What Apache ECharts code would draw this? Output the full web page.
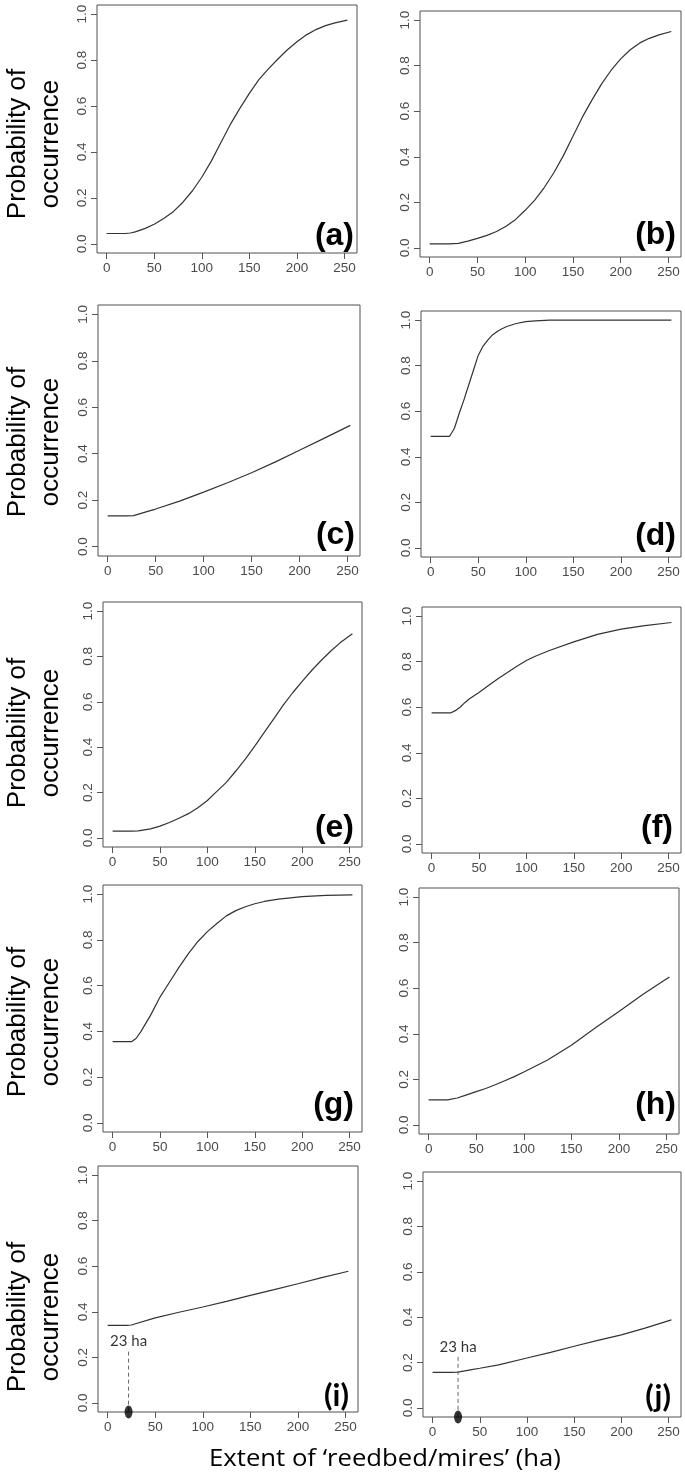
<!DOCTYPE html>
<html>
<head>
<meta charset="utf-8">
<script src="https://cdn.jsdelivr.net/npm/echarts@6/dist/echarts.min.js"></script>
<style>
html,body{margin:0;padding:0;background:#fff;}
#chart{width:685px;height:1478px;}
</style>
</head>
<body>
<div id="chart"></div>
<script>
// ---------- data ----------
const xTicks = [0, 50, 100, 150, 200, 250];
const yTicks = [0, 0.2, 0.4, 0.6, 0.8, 1.0];
const panelNames = ['(a)', '(b)', '(c)', '(d)', '(e)', '(f)', '(g)', '(h)', '(i)', '(j)'];
const yTitle = 'Probability of\noccurrence';
const xTitle = 'Extent of \u2018reedbed/mires\u2019 (ha)';

const xa = [0,10,20,25,30,40,50,60,70,80,90,100,110,120,130,140,150,160,170,180,190,200,210,220,230,240,253];
const ya = [0.045,0.045,0.045,0.047,0.052,0.066,0.085,0.11,0.14,0.18,0.23,0.29,0.36,0.44,0.52,0.59,0.655,0.715,0.762,0.805,0.845,0.88,0.91,0.933,0.95,0.962,0.974];

const xb = [0,10,20,30,40,50,60,70,80,90,100,110,120,130,140,150,160,170,180,190,200,210,220,230,240,253];
const yb = [0.018,0.018,0.018,0.02,0.03,0.042,0.055,0.072,0.095,0.125,0.165,0.21,0.265,0.33,0.405,0.49,0.575,0.65,0.72,0.78,0.83,0.87,0.9,0.92,0.935,0.95];

const xc = [0,10,20,27,40,50,75,100,125,150,175,200,225,253];
const yc = [0.133,0.133,0.133,0.134,0.15,0.162,0.196,0.235,0.275,0.318,0.365,0.415,0.465,0.522];

const xd = [0,10,20,25,30,35,40,45,50,55,60,65,70,75,80,90,100,110,125,150,175,200,225,253];
const yd = [0.49,0.49,0.49,0.525,0.59,0.65,0.715,0.78,0.845,0.885,0.912,0.935,0.95,0.962,0.972,0.985,0.993,0.997,1,1,1,1,1,1];

const xe = [0,10,20,27,40,50,60,70,80,90,100,110,120,130,140,150,160,170,180,190,200,210,220,230,240,253];
const ye = [0.03,0.03,0.03,0.031,0.04,0.052,0.068,0.087,0.107,0.133,0.165,0.205,0.245,0.295,0.347,0.405,0.465,0.525,0.585,0.64,0.69,0.738,0.782,0.823,0.86,0.9];

const xf = [0,10,20,25,30,35,40,50,60,70,80,90,100,110,125,150,175,200,225,253];
const yf = [0.575,0.575,0.575,0.585,0.6,0.62,0.637,0.665,0.695,0.725,0.752,0.78,0.805,0.825,0.85,0.887,0.92,0.943,0.958,0.972];

const xg = [0,10,20,25,30,40,50,60,70,80,90,100,110,120,130,140,150,160,175,200,225,253];
const yg = [0.355,0.355,0.355,0.37,0.4,0.47,0.55,0.615,0.68,0.74,0.793,0.836,0.872,0.905,0.928,0.945,0.958,0.968,0.978,0.989,0.995,0.997];

const xh = [0,10,20,30,40,50,60,70,80,90,100,110,125,150,175,200,225,253];
const yh = [0.11,0.11,0.11,0.118,0.132,0.146,0.16,0.176,0.194,0.212,0.232,0.253,0.285,0.35,0.425,0.498,0.572,0.649];

const xi = [0,10,20,25,50,75,100,125,150,175,200,225,253];
const yi = [0.34,0.34,0.34,0.342,0.373,0.398,0.421,0.446,0.472,0.497,0.523,0.55,0.578];

const xj = [0,10,20,27,40,50,70,100,125,150,175,200,225,253];
const yj = [0.157,0.157,0.157,0.158,0.168,0.175,0.19,0.22,0.245,0.272,0.298,0.322,0.352,0.388];

// threshold annotation (panels i and j)
const annotLabel = '23 ha';
const annotXi = 22;
const annotXj = 27;
const annotTop = 0.225;
const annotTextY = 0.27;

// ---------- layout ----------
const seriesX = [xa, xb, xc, xd, xe, xf, xg, xh, xi, xj];
const seriesY = [ya, yb, yc, yd, ye, yf, yg, yh, yi, yj];
const gridRects = [
  [97, 5, 260, 248], [420, 11, 261, 246],
  [98, 305, 262, 251], [421, 311, 260, 246],
  [103, 602, 259, 245], [422, 607, 259, 246],
  [103, 885, 259, 247], [419, 888, 260, 246],
  [98, 1166, 260, 246], [423, 1172, 258, 245]
];
const labelPos = [
  [354, 252], [676, 251],
  [355, 551], [676, 552],
  [354, 844], [673, 844],
  [354, 1121], [676, 1121],
  [349, 1411], [671, 1412]
];
const yTitlePos = [[34, 144], [34, 442], [34, 733], [34, 1022], [34, 1317]];

const XMIN = -10.12, XMAX = 263.12, YMIN = -0.04, YMAX = 1.04;
const tickColor = '#555';
const labelColor = '#4a4a4a';

const grid = [], xAxis = [], yAxis = [], series = [], graphic = [];
for (let k = 0; k < 10; k++) {
  const r = gridRects[k];
  grid.push({left: r[0], top: r[1], width: r[2], height: r[3], show: true,
             borderColor: '#505050', borderWidth: 1, backgroundColor: 'transparent'});
  xAxis.push({type: 'value', gridIndex: k, min: XMIN, max: XMAX,
    splitLine: {show: false},
    axisLine: {show: false, onZero: false},
    axisTick: {show: true, length: 6, inside: false, customValues: xTicks, lineStyle: {color: tickColor, width: 1}},
    axisLabel: {show: true, customValues: xTicks, margin: 8, color: labelColor,
      fontFamily: 'Liberation Sans, Arial, sans-serif', fontSize: 13.5}
  });
  yAxis.push({type: 'value', gridIndex: k, min: YMIN, max: YMAX,
    splitLine: {show: false},
    axisLine: {show: false, onZero: false},
    axisTick: {show: true, length: 6, inside: false, customValues: yTicks, lineStyle: {color: tickColor, width: 1}},
    axisLabel: {show: true, customValues: yTicks, rotate: 90, margin: 8, color: labelColor,
      fontFamily: 'Liberation Sans, Arial, sans-serif', fontSize: 13.5,
      formatter: v => Number(v).toFixed(1)}
  });
  const xs = seriesX[k], ys = seriesY[k];
  series.push({type: 'line', xAxisIndex: k, yAxisIndex: k,
    data: xs.map((x, i) => [x, ys[i]]),
    showSymbol: false, symbol: 'none', smooth: false, silent: true,
    lineStyle: {color: '#333', width: 1.2}
  });
  const lp = labelPos[k];
  const isCal = k >= 8;
  graphic.push({type: 'text', x: lp[0], y: lp[1], silent: true,
    style: {text: panelNames[k],
      font: isCal ? 'bold 31px Lato, "Open Sans", sans-serif' : 'bold 32px "Liberation Sans", Arial, sans-serif',
      fill: '#000', align: 'right', verticalAlign: 'bottom'}});
}

// annotations in panels i (8) and j (9)
[[8, annotXi], [9, annotXj]].forEach(([k, ax]) => {
  series.push({type: 'line', xAxisIndex: k, yAxisIndex: k,
    data: [[ax, annotTop], [ax, YMIN]], showSymbol: false, symbol: 'none', silent: true,
    lineStyle: {color: '#666', width: 1, type: [4, 3]}, z: 3});
  series.push({type: 'scatter', xAxisIndex: k, yAxisIndex: k, clip: false,
    data: [[ax, YMIN]], symbol: 'circle', symbolSize: [8, 13], silent: true,
    itemStyle: {color: '#000'}, z: 5});
  series.push({type: 'scatter', xAxisIndex: k, yAxisIndex: k, clip: false,
    data: [[ax, annotTextY]], symbolSize: 0, silent: true,
    label: {show: true, position: 'inside', formatter: annotLabel, color: '#000',
      fontFamily: 'Lato, "Open Sans", sans-serif', fontSize: 15}, z: 5});
});

yTitlePos.forEach(p => {
  graphic.push({type: 'text', x: p[0], y: p[1], rotation: Math.PI / 2, silent: true,
    style: {text: yTitle, font: '26px "Liberation Sans", Arial, sans-serif', fill: '#000',
      align: 'center', verticalAlign: 'middle', lineHeight: 33}});
});
graphic.push({type: 'text', x: 385, y: 1459, scaleX: 1.07, silent: true,
  style: {text: xTitle, font: '24px "Open Sans", Lato, sans-serif', fill: '#000',
    align: 'center', verticalAlign: 'middle'}});

const chart = echarts.init(document.getElementById('chart'), null, {renderer: 'canvas'});
chart.setOption({
  animation: false,
  backgroundColor: '#fff',
  grid, xAxis, yAxis, series, graphic
});
</script>
</body>
</html>
